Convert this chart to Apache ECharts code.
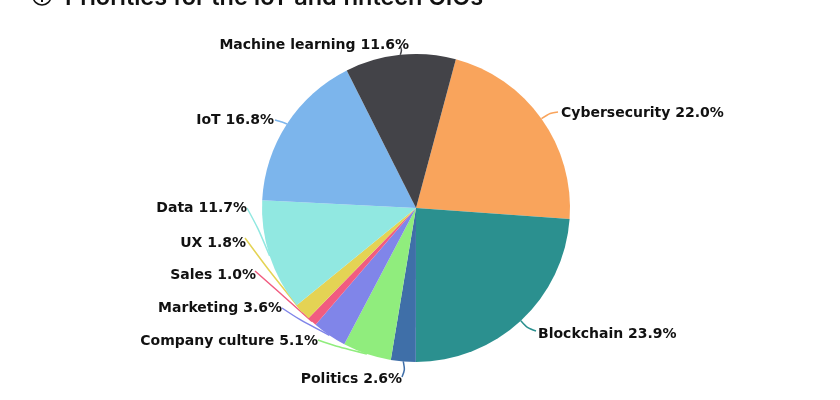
<!DOCTYPE html>
<html><head><meta charset="utf-8">
<style>html,body{margin:0;background:#fff}#c{width:840px;height:400px}</style>
<script src="https://cdn.jsdelivr.net/npm/echarts@6/dist/echarts.min.js"></script>
</head><body><div id="c"></div>
<script>
const categories = ['Cybersecurity','Blockchain','Politics','Company culture','Marketing','Sales','UX','Data','IoT','Machine learning'];
const shares = [22.0,23.9,2.6,5.1,3.6,1.0,1.8,11.7,16.8,11.6];
const colors = ['#f9a45c','#2b908f','#3f6fa8','#90ed7d','#8085e9','#f15c80','#e4d354','#91e8e1','#7cb5ec','#434348'];
// label anchor: x of the text edge nearest the pie, y of the text centre, side of the pie
const labelAnchors = [[561,113,'left'],[538,334,'left'],[402,379,'right'],[318,341,'right'],[282,308,'right'],[256,275,'right'],[246,243,'right'],[247,208,'right'],[274,120,'right'],[409,45,'right']];
// where each leader line leaves its label, and where it bends
const lineEnds = [[558,112],[536,331],[402,377],[318,340],[282,308],[255,271],[245,238],[247,208],[275,120],[400,46]];
const lineBends = [[550,113],[527,328],[405,370],[335,346],[300,320],[280,293],[270,272],[258,228],[282,122],[402,50]];
const cx = 416, cy = 208, R = 154, startAngle = 75;
const total = shares.reduce((a,b)=>a+b,0);
let run = 0;
const edgePoints = shares.map(v=>{
  const a = (startAngle - (run + v/2)/total*360)*Math.PI/180;
  run += v;
  return [cx+R*Math.cos(a), cy-R*Math.sin(a)];
});
const chart = echarts.init(document.getElementById('c'));
chart.setOption({
  animation:false,
  title:{text:'Priorities for the IoT and fintech CIOs',left:60,top:-19,textStyle:{fontFamily:'Inter',fontSize:23.5,fontWeight:600,color:'#111'}},
  graphic:[{type:'circle',shape:{cx:42,cy:-4,r:9},style:{fill:'none',stroke:'#111',lineWidth:1.6}},
           {type:'rect',shape:{x:41,y:-4,width:2,height:6},style:{fill:'#111'}}],
  series:[{type:'pie',center:[cx,cy],radius:[0,R],startAngle:startAngle,clockwise:true,
    data:categories.map((n,i)=>({name:n,value:shares[i],itemStyle:{color:colors[i]},labelLine:{lineStyle:{color:colors[i],width:1.5}}})),
    label:{formatter:p=>p.name+' '+p.value.toFixed(1)+'%',fontFamily:'DejaVu Sans',fontSize:14,fontWeight:'bold',color:'#111'},
    labelLine:{show:true,smooth:0.3},
    labelLayout:p=>{
      const i=p.dataIndex, a=labelAnchors[i];
      return {x:a[0],y:a[1],align:a[2],verticalAlign:'middle',hideOverlap:false,
        labelLinePoints:[edgePoints[i],lineBends[i],lineEnds[i]]};
    }
  }]
});
</script></body></html>
